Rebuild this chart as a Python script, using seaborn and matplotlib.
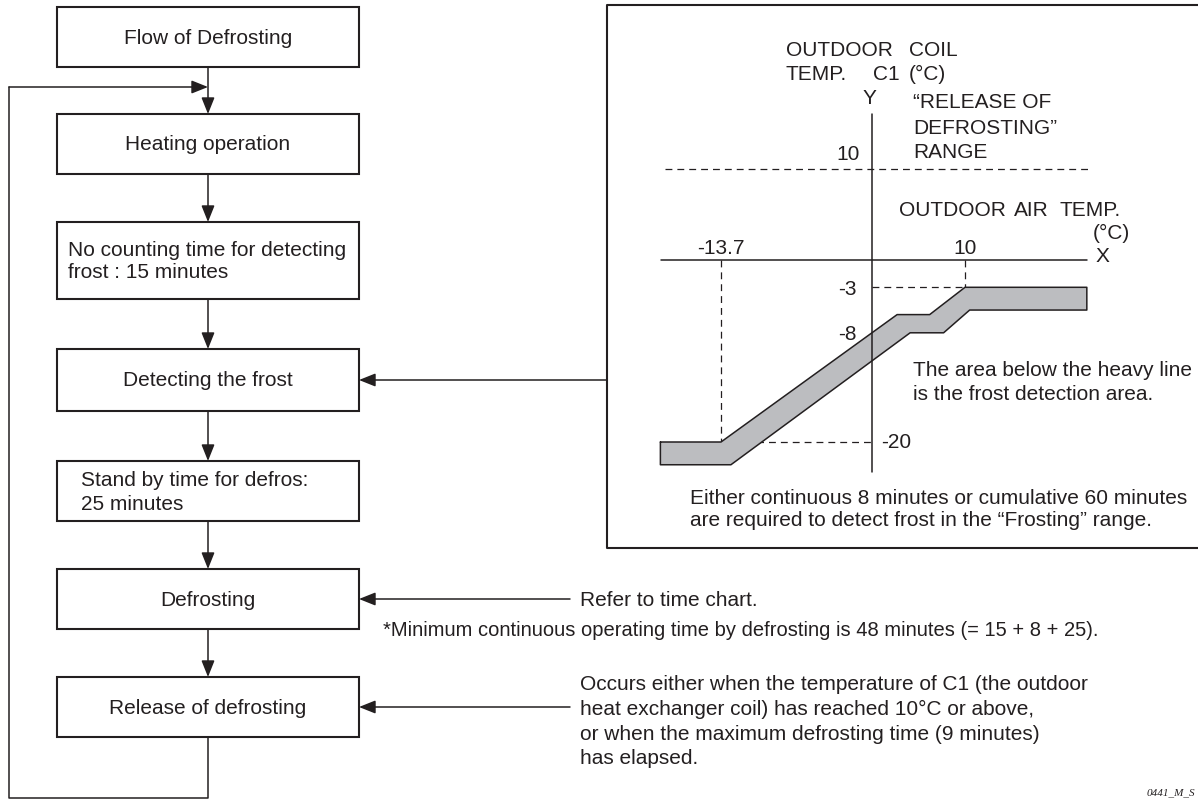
import numpy as np
import matplotlib
matplotlib.use("Agg")
import matplotlib.pyplot as plt
from matplotlib.patches import Rectangle
import seaborn as sns

# flow of defrosting steps, top to bottom
steps = [
    "Flow of Defrosting",
    "Heating operation",
    "No counting time for detecting\nfrost : 15 minutes",
    "Detecting the frost",
    "Stand by time for defros:\n25 minutes",
    "Defrosting",
    "Release of defrosting",
]

refer_note = "Refer to time chart."
release_note = ("Occurs either when the temperature of C1 (the outdoor\n"
                "heat exchanger coil) has reached 10°C or above,\n"
                "or when the maximum defrosting time (9 minutes)\n"
                "has elapsed.")
footnote = "*Minimum continuous operating time by defrosting is 48 minutes (= 15 + 8 + 25)."
area_note = "The area below the heavy line\nis the frost detection area."
detect_note = ("Either continuous 8 minutes or cumulative 60 minutes\n"
               "are required to detect frost in the “Frosting” range.")
release_range = "“RELEASE OF\nDEFROSTING”\nRANGE"

# frost detection band (outdoor air temp °C, outdoor coil temp °C)
band_upper_x = [-19.2, -13.7, 2.7, 6.2, 10.0, 23.1]
band_upper_y = [-20.0, -20.0, -6.0, -6.0, -3.0, -3.0]
band_lower_x = [23.1, 10.5, 7.7, 4.1, -12.8, -19.2]
band_lower_y = [-5.5, -5.5, -8.0, -8.0, -22.5, -22.5]

x_ticks = [-13.7, 10]
y_ticks = [10, -3, -8, -20]
release_temp = 10
axis_x_range = [-19.1, 23.1]
axis_y_range = [-23.3, 16.0]
release_line_range = [-18.8, 23.2]

INK = "#231f20"
GRAY = "#bcbdc0"
W, H = 1198, 801
PT = 0.72  # points per pixel at dpi 100
FS = 15

sns.set_theme(style="white")
plt.rcParams["font.family"] = ["Liberation Sans", "DejaVu Sans"]
plt.rcParams["text.color"] = INK

fig = plt.figure(figsize=(W / 100, H / 100), dpi=100)
ax = fig.add_axes([0, 0, 1, 1])
ax.set_xlim(0, W)
ax.set_ylim(H, 0)
ax.axis("off")


def arrow(a, x0, y0, x1, y1):
    a.annotate("", xy=(x1, y1), xytext=(x0, y0),
               arrowprops=dict(arrowstyle="-|>,head_length=0.5,head_width=0.2",
                               color=INK, lw=1.1, shrinkA=0, shrinkB=0,
                               mutation_scale=20))


def lines(a, x, y0, step, text, **kw):
    kw.setdefault("fontsize", FS)
    kw.setdefault("ha", "left")
    for i, s in enumerate(text.split("\n")):
        a.text(x, y0 + i * step, s, va="center", **kw)


# flowchart layout
box_left, box_w, cx = 57, 302, 208
box_rows = [(7, 67), (114, 174), (222, 299), (349, 411), (461, 521), (569, 629), (677, 737)]
text_left = [None, None, (68, 250, 23), None, (81, 481, 24), None, None]

for label, (top, bot), tl in zip(steps, box_rows, text_left):
    ax.add_patch(Rectangle((box_left, top), box_w, bot - top, fill=False, ec=INK, lw=1.5))
    if tl is None:
        ax.text(cx, (top + bot) / 2 + 1, label, ha="center", va="center", fontsize=FS)
    else:
        lines(ax, tl[0], tl[1], tl[2], label)

for (_, bot), (top, _) in zip(box_rows[:-1], box_rows[1:]):
    arrow(ax, cx, bot, cx, top)

# loop back from release to heating
ax.plot([cx, cx, 9, 9], [box_rows[-1][1], 798, 798, 87], color=INK, lw=1.1)
arrow(ax, 9, 87, cx, 87)

# side arrows and notes
right = box_left + box_w
arrow(ax, 607, 380, right, 380)
arrow(ax, 570, 599, right, 599)
arrow(ax, 570, 707, right, 707)
lines(ax, 580, 600, 0, refer_note)
lines(ax, 383, 630, 0, footnote, fontsize=14.5)
lines(ax, 580, 684, 25, release_note)
ax.text(1195, 793, "0441_M_S", ha="right", va="center", fontsize=8,
        family="Liberation Serif", style="italic")

# panel frame (open on the right)
ax.plot([W, 607, 607, W], [5, 5, 548, 548], color=INK, lw=1.5)

# panel texts
for word, x, y in [("OUTDOOR", 786, 51), ("COIL", 909, 51),
                   ("TEMP.", 786, 74), ("C1", 873, 74), ("(°C)", 909, 74),
                   ("OUTDOOR", 899, 210), ("AIR", 1014, 210), ("TEMP.", 1060, 210),
                   ("(°C)", 1093, 233)]:
    ax.text(x, y, word, ha="left", va="center", fontsize=FS)
lines(ax, 913, 103, 25, release_range)
lines(ax, 913, 371, 23, area_note)
lines(ax, 690, 498, 23, detect_note)

# detection chart: schematic x scale, linear y scale
kx_t = [-200, -13.7, 0, 10, 200]
kx_p = [721 - 186.3 * 11.02, 721, 872, 965, 965 + 190 * 9.3]


def fwd(t):
    return np.interp(np.asarray(t, float), kx_t, kx_p)


def inv(p):
    return np.interp(np.asarray(p, float), kx_p, kx_t)


gx = fig.add_axes([0, 0, 1, 1])
gx.patch.set_alpha(0)
gx.set_xscale("function", functions=(fwd, inv))
gx.set_xlim(inv(0), inv(W))
gx.set_ylim((260 - H) / 9.1, 260 / 9.1)
gx.axis("off")

bx = band_upper_x + band_lower_x + band_upper_x[:1]
by = band_upper_y + band_lower_y + band_upper_y[:1]
gx.fill(bx, by, fc=GRAY, ec="none", zorder=2)
sns.lineplot(x=bx, y=by, sort=False, estimator=None, color=INK, lw=1.1, ax=gx, zorder=3)

gx.plot(axis_x_range, [0, 0], color=INK, lw=1.1, zorder=4)
gx.plot([0, 0], axis_y_range, color=INK, lw=1.1, zorder=4)

dash = dict(color=INK, lw=0.9, ls=(0, (5.5, 4)), zorder=1)
gx.plot(release_line_range, [release_temp, release_temp], **dash)
gx.plot([x_ticks[0]] * 2, [0, band_upper_y[0]], **dash)
gx.plot([x_ticks[1]] * 2, [0, band_upper_y[-1]], **dash)
gx.plot([0, x_ticks[1]], [band_upper_y[-1]] * 2, **dash)
gx.plot([x_ticks[0], 0], [band_upper_y[0]] * 2, **dash)

for xv in x_ticks:
    gx.annotate(f"{xv:g}", xy=(xv, 0), xytext=(0, 11 * PT), textcoords="offset points",
                ha="center", va="center", fontsize=FS)
for yv in y_ticks:
    if yv == -20:
        off, ha = (9 * PT, 0), "left"
    elif yv == 10:
        off, ha = (-12 * PT, 15 * PT), "right"
    else:
        off, ha = (-15 * PT, -2 * PT), "right"
    gx.annotate(f"{yv:g}", xy=(0, yv), xytext=off, textcoords="offset points",
                ha=ha, va="center", fontsize=FS)

gx.annotate("X", xy=(axis_x_range[1], 0), xytext=(16 * PT, 3 * PT), textcoords="offset points",
            ha="center", va="center", fontsize=FS)
gx.annotate("Y", xy=(0, axis_y_range[1]), xytext=(-3 * PT, 16 * PT), textcoords="offset points",
            ha="center", va="center", fontsize=FS)

fig.savefig("out.png", dpi=100)
